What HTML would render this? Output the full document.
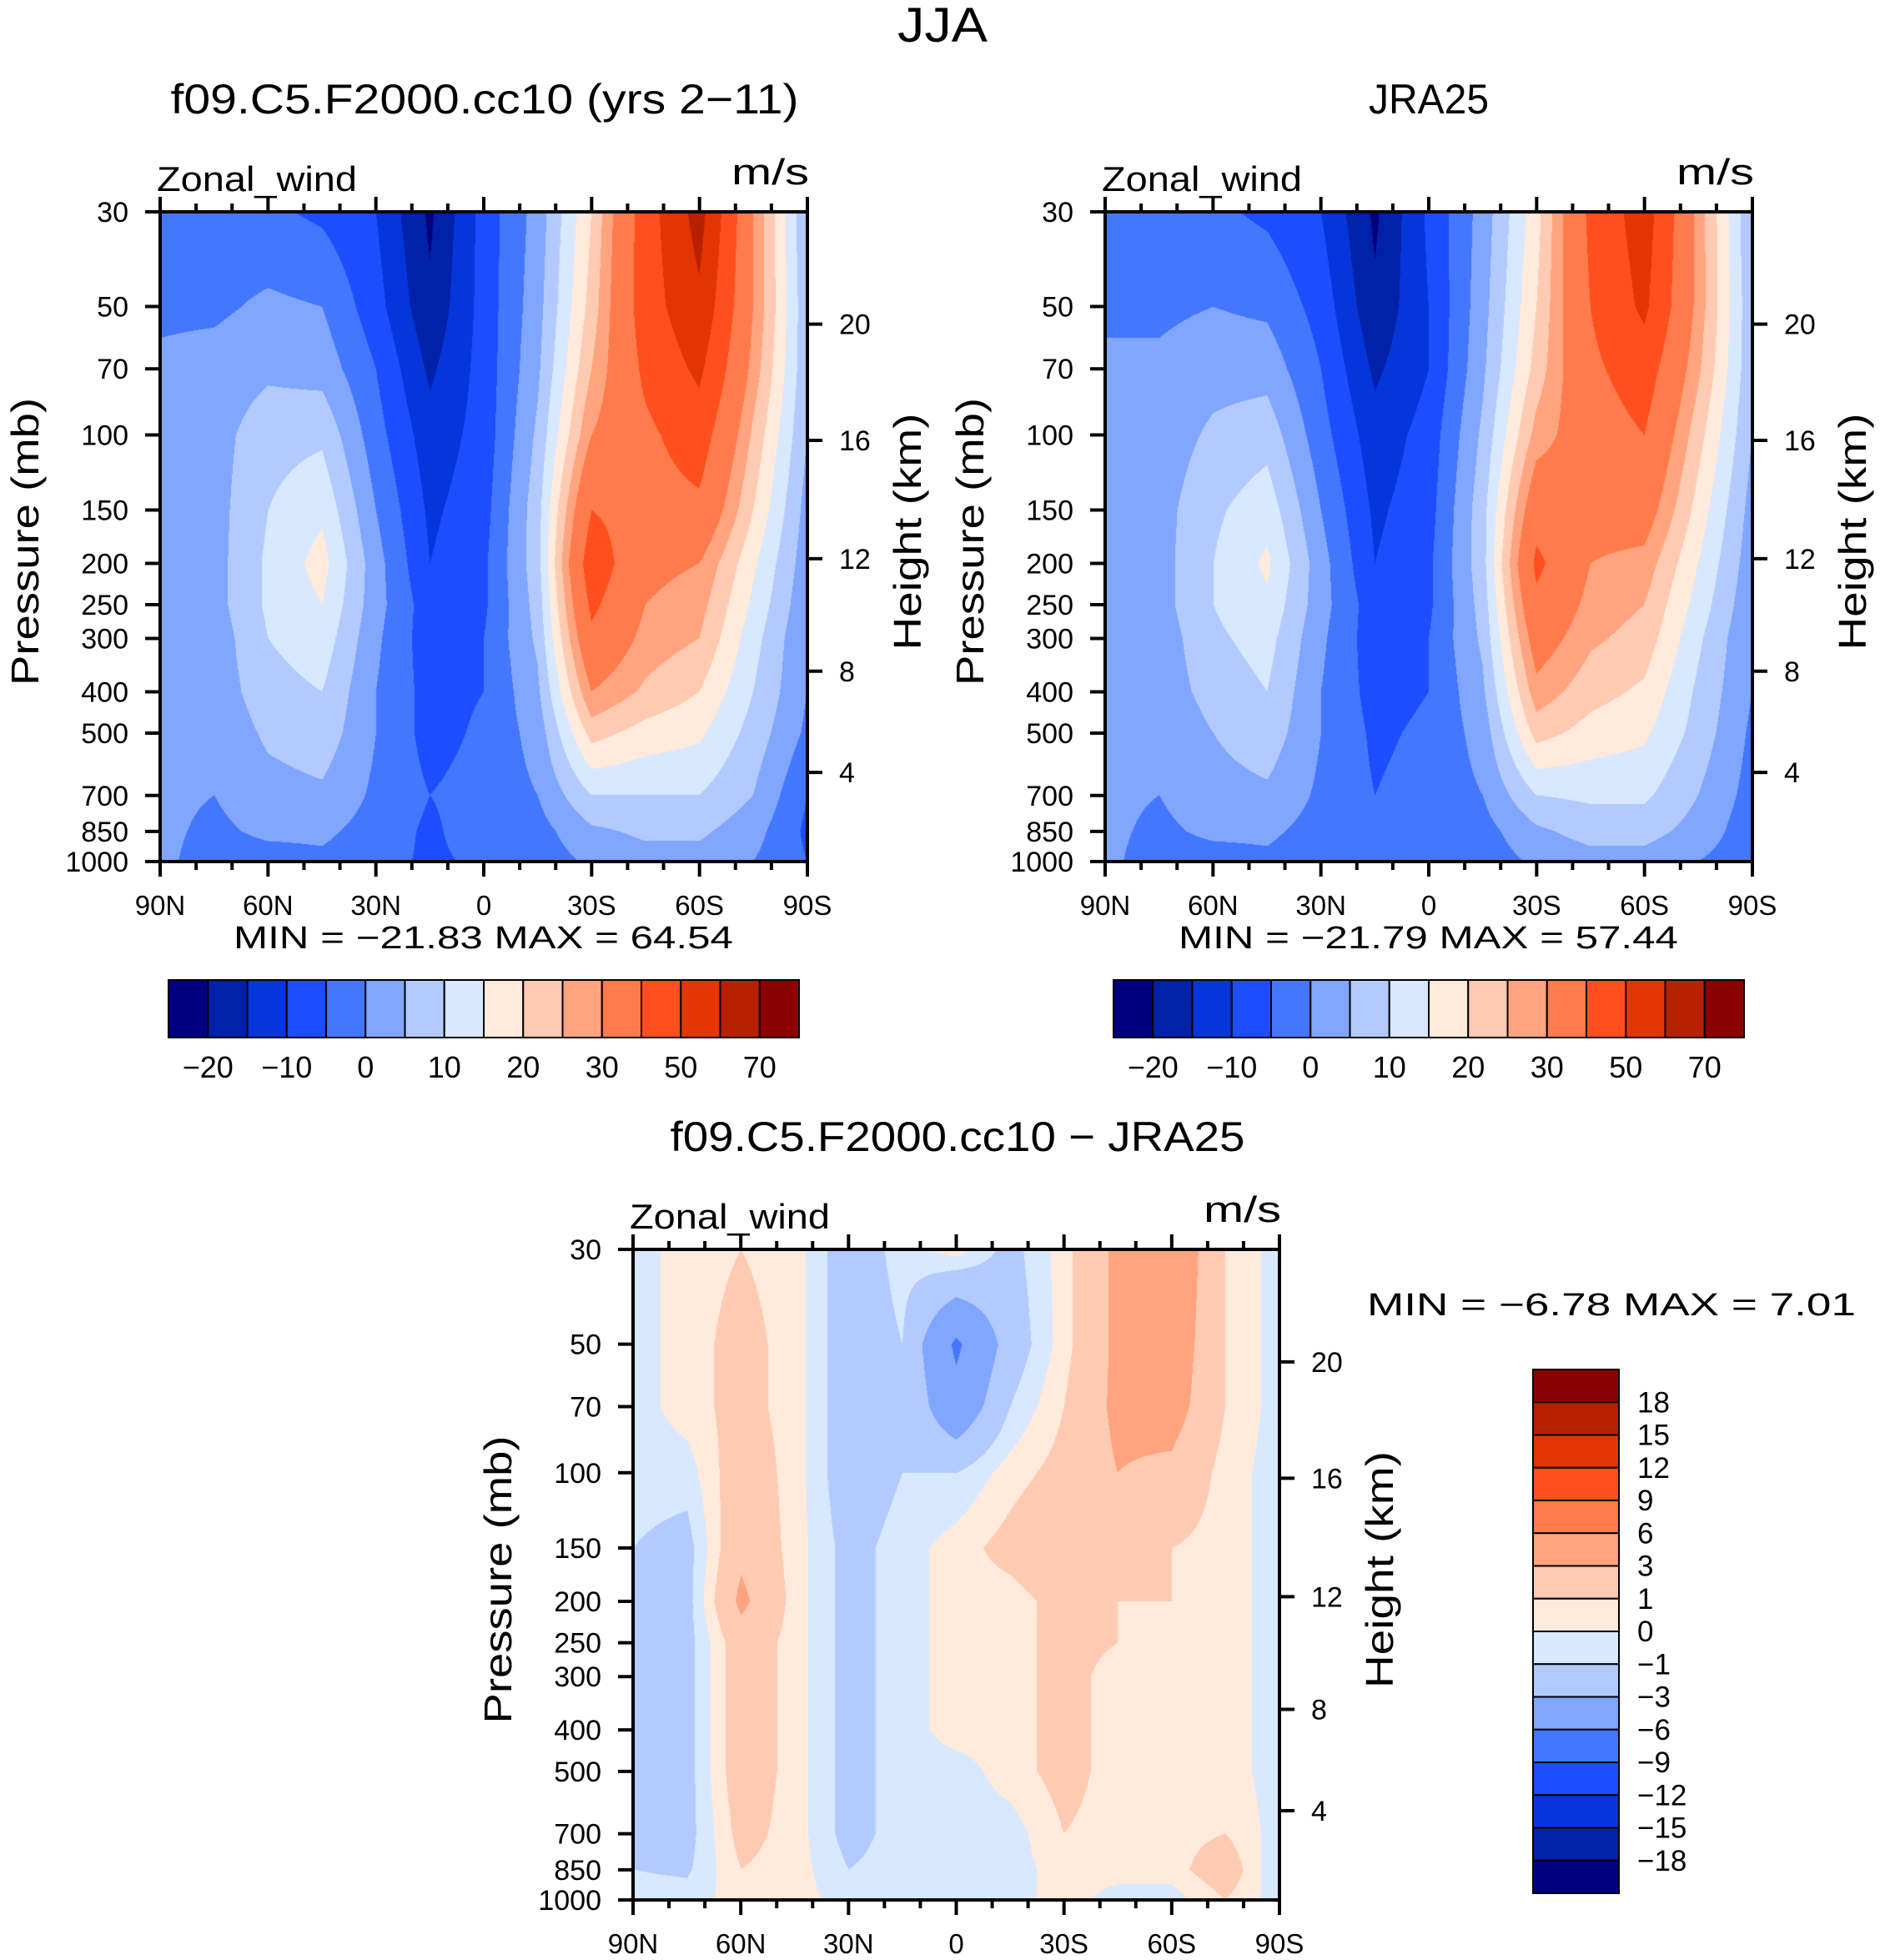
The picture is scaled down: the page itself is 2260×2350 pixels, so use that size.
<!DOCTYPE html>
<html><head><meta charset="utf-8">
<style>
html,body{margin:0;padding:0;background:#fff;}
#root{position:relative;width:2260px;height:2350px;overflow:hidden;font-family:"Liberation Sans",sans-serif;}
canvas{position:absolute;}
svg{position:absolute;left:0;top:0;}
text{font-family:"Liberation Sans",sans-serif;fill:#000;}
</style></head>
<body>
<div id="root">
<canvas id="c1"></canvas>
<canvas id="c2"></canvas>
<canvas id="c3"></canvas>
<svg id="ov" width="2260" height="2350"></svg>
</div>
<script>
// ---- data ----
const latLabels = ["90N","60N","30N","0","30S","60S","90S"];
const latsGrid = [90,75,60,45,30,15,0,-15,-30,-45,-60,-75,-90];
const pressures = [30,50,70,100,150,200,250,300,400,500,700,850,1000];
const pressureTicks = [30,50,70,100,150,200,250,300,400,500,700,850,1000];
const heightLabels = [20,16,12,8,4];
const heightTickPressures = [55,103,195,358,618];
const mainLevels = [-20,-15,-10,-5,0,5,10,15,20,25,30,40,50,60,70];
const mainLevelLabels = ["-20","-10","0","10","20","30","50","70"];
const diffLevels = [-18,-15,-12,-9,-6,-3,-1,0,1,3,6,9,12,15,18];
const palette = ["#00007f","#0021a8","#0536dc","#1c4eff","#4477ff","#80a6ff","#b2caff","#d7e8ff","#ffeadb","#ffcab2","#ffa47e","#ff7b4c","#ff4f1e","#e23500","#b82100","#8b0000"];
const modelU = [
[-3,-3,-4,-6,-10,-21,-8,2,20,45,64,30,5],
[-1,-1,1,0,-8,-19,-8,3,22,45,58,30,6],
[1,2,4,3,-5,-16,-8,4,25,42,52,28,6],
[2,3,8,9,-3,-13,-8,6,30,38,45,24,5],
[2,3,10,14,0,-11,-7,8,40,36,38,20,3],
[2,3,11,17,2,-10,-6,8,46,32,30,16,2],
[2,3,11,15,2,-8,-6,7,42,30,27,14,1],
[2,2,10,13,1,-8,-5,6,38,28,25,12,0],
[2,2,8,10,0,-7,-5,4,30,24,20,10,0],
[2,1,6,8,0,-7,-4,2,22,18,16,8,-1],
[1,0,3,4,-1,-5,-3,0,10,10,10,5,-5],
[1,-1,1,1,-2,-6,-2,-2,4,6,6,2,-6],
[1,-2,-2,-1,-3,-6,-4,-3,1,3,3,0,-5]];
const obsU = [
[-3,-3,-4,-6,-10,-21,-9,2,18,42,55,28,5],
[-1,-1,0,-1,-7,-19,-10,3,20,40,52,28,6],
[1,1,3,3,-5,-16,-10,4,22,38,45,26,6],
[2,2,6,8,-3,-13,-8,6,27,35,40,22,5],
[2,3,9,13,0,-11,-7,8,36,33,34,18,3],
[2,3,10,16,2,-10,-6,8,42,30,28,15,2],
[2,3,10,14,2,-8,-6,7,38,28,25,13,1],
[2,2,9,12,1,-8,-5,6,34,26,23,11,0],
[2,2,7,10,0,-7,-5,4,28,22,19,9,0],
[2,1,5,8,0,-6,-4,2,22,18,16,8,-1],
[1,0,3,4,-1,-5,-3,0,10,11,11,5,-2],
[1,-1,1,1,-2,-5,-2,-2,4,7,7,3,-3],
[1,-2,-2,-1,-3,-5,-4,-3,1,3,3,0,-3]];
const diffU = [
[-0.5,0.5,1,0.5,-2,-0.5,0.5,-1.5,0.5,3.5,5,1,-0.5],
[-0.5,0.5,1.5,0.5,-2,-1,-6.5,-2,0.5,3.5,4.5,1,-0.5],
[-0.5,0.5,1.5,0.5,-2,-1,-5,-1,1,3.5,4,1,-0.5],
[-0.5,-0.5,2,0.5,-2,-1,-1,0.5,1.5,3,2.5,0.5,-0.5],
[-1,-1.5,2.5,0.5,-1.5,-0.5,0.5,1.5,2.5,1.5,1,0.5,-0.5],
[-1,-1.5,3.5,0.5,-1.5,-0.5,0.5,0.5,1.5,1,1,0.5,-0.5],
[-1,-1.5,2,0.5,-1.5,-0.5,0.5,0.5,1.5,1,0.5,0.5,-0.5],
[-1,-1.5,2,0.5,-1.5,-0.5,0.5,0.5,1.5,0.5,0.5,0.5,-0.5],
[-1,-1.5,2,0.5,-1.5,-0.5,0.5,0.5,1.5,0.5,0.5,0.5,-0.5],
[-1,-1.5,2,0.5,-1.5,-0.5,-0.5,0.5,1.5,0.5,0.5,0.5,-0.5],
[-1,-1.5,1.5,0.5,-1.5,-0.5,-0.5,-0.5,1,0.5,0.5,1,-0.5],
[-1,-1.2,1,0.5,-1,-0.5,-1,-0.5,0.5,0.5,0.5,2,-1],
[-0.5,-0.5,0.5,0.5,-0.5,-0.5,-1,-0.5,0.5,-0.5,-0.5,1,-0.5]];

// ---- helpers ----
const NS="http://www.w3.org/2000/svg";
const ov=document.getElementById('ov');
function el(tag,attrs,txt){const e=document.createElementNS(NS,tag);for(const k in attrs)e.setAttribute(k,attrs[k]);if(txt!==undefined)e.textContent=txt;ov.appendChild(e);return e;}
const lp0=Math.log(30),lp1=Math.log(1000);
function yOf(p,y0,h){return y0+(Math.log(p)-lp0)/(lp1-lp0)*h;}
function xOf(lat,x0,w){return x0+(90-lat)/180*w;}
function colorIdx(v,levels){let i=0;while(i<levels.length&&v>=levels[i])i++;return i;}
function hex(c){return [parseInt(c.substr(1,2),16),parseInt(c.substr(3,2),16),parseInt(c.substr(5,2),16)];}
const rgb=palette.map(hex);
const lpArr=pressures.map(p=>Math.log(p));

function fill(id,x0,y0,w,h,grid,levels){
  const cv=document.getElementById(id);
  cv.width=w;cv.height=h;cv.style.left=x0+'px';cv.style.top=y0+'px';
  const ctx=cv.getContext('2d');const img=ctx.createImageData(w,h);
  const nx=latsGrid.length-1;
  for(let py=0;py<h;py++){
    const lp=lp0+py/(h-1)*(lp1-lp0);
    let r=0;while(r<lpArr.length-2&&lp>lpArr[r+1])r++;
    const ty=Math.min(1,Math.max(0,(lp-lpArr[r])/(lpArr[r+1]-lpArr[r])));
    for(let px=0;px<w;px++){
      const fx=px/(w-1)*nx;let c=Math.min(nx-1,Math.floor(fx));const tx=fx-c;
      const v=(grid[r][c]*(1-tx)+grid[r][c+1]*tx)*(1-ty)+(grid[r+1][c]*(1-tx)+grid[r+1][c+1]*tx)*ty;
      const col=rgb[colorIdx(v,levels)];const k=(py*w+px)*4;
      img.data[k]=col[0];img.data[k+1]=col[1];img.data[k+2]=col[2];img.data[k+3]=255;
    }
  }
  ctx.putImageData(img,0,0);
}
function T(attrs,txt,len){const a=Object.assign({},attrs);if(len){a.textLength=len;a.lengthAdjust='spacingAndGlyphs';}return el('text',a,txt);}

function axes(x0,y0,w,h,title,titleX,titleLen,name){
  T({x:titleX,y:y0-118,'font-size':50,'text-anchor':'middle',},title,titleLen);
  T({x:x0-4,y:y0-25,'font-size':42,},'Zonal_wind',240);
  T({x:x0+w+2-93,y:y0-33,'font-size':44,},'m/s',93);
  el('rect',{x:x0,y:y0,width:w,height:h,fill:'none',stroke:'#000','stroke-width':4,});
  for(let lat=90;lat>=-90;lat-=10){
    const x=xOf(lat,x0,w);const major=lat%30===0;const L=major?18:10;
    el('line',{x1:x,y1:y0,x2:x,y2:y0-L,stroke:'#000','stroke-width':4});
    el('line',{x1:x,y1:y0+h,x2:x,y2:y0+h+L,stroke:'#000','stroke-width':4});
  }
  latLabels.forEach((t,i)=>{const lat=90-i*30;
    el('text',{x:xOf(lat,x0,w),y:y0+h+64,'font-size':33,'text-anchor':'middle',},t);});
  pressureTicks.forEach(p=>{const y=yOf(p,y0,h);
    el('line',{x1:x0,y1:y,x2:x0-18,y2:y,stroke:'#000','stroke-width':4});
    el('text',{x:x0-38,y:y+12,'font-size':34,'text-anchor':'end',},String(p));});
  heightLabels.forEach((k,i)=>{const y=yOf(heightTickPressures[i],y0,h);
    el('line',{x1:x0+w,y1:y,x2:x0+w+18,y2:y,stroke:'#000','stroke-width':4});
    el('text',{x:x0+w+38,y:y+12,'font-size':34,},String(k));});
  const cy=y0+h/2;
  T({x:0,y:0,'font-size':46,'text-anchor':'middle',transform:`translate(${x0-146},${cy+6}) rotate(-90)`,},'Pressure (mb)',345);
  T({x:0,y:0,'font-size':46,'text-anchor':'middle',transform:`translate(${x0+w+136},${cy-6}) rotate(-90)`,},'Height (km)',284);
}

function hbar(x0,y0,w,h,name){
  const bw=w/16;
  for(let i=0;i<16;i++) el('rect',{x:x0+i*bw,y:y0,width:bw,height:h,fill:palette[i],stroke:'#000','stroke-width':2,});
  mainLevelLabels.forEach((t,i)=>{el('text',{x:x0+(2*i+1)*bw,y:y0+h+48,'font-size':36,'text-anchor':'middle',},t.replace('-','\u2212'));});
}

T({x:1130,y:50,'font-size':58,'text-anchor':'middle',},'JJA',108);

const P1={x:192,y:254,w:776,h:779}, P2={x:1325,y:254,w:776,h:779}, P3={x:759,y:1498,w:775,h:780};
fill('c1',P1.x,P1.y,P1.w,P1.h,modelU,mainLevels);
fill('c2',P2.x,P2.y,P2.w,P2.h,obsU,mainLevels);
fill('c3',P3.x,P3.y,P3.w,P3.h,diffU,diffLevels);
axes(P1.x,P1.y,P1.w,P1.h,'f09.C5.F2000.cc10 (yrs 2\u221211)',581,753,'model');
axes(P2.x,P2.y,P2.w,P2.h,'JRA25',1713,144,'obs');
axes(P3.x,P3.y,P3.w,P3.h,'f09.C5.F2000.cc10 \u2212 JRA25',1148,689,'diff');

T({x:280,y:1137,'font-size':38,'xml:space':'preserve'},'MIN =  \u221221.83   MAX =   64.54',599);
T({x:1413,y:1137,'font-size':38,'xml:space':'preserve'},'MIN =  \u221221.79   MAX =   57.44',599);
T({x:1639,y:1577,'font-size':38,'xml:space':'preserve'},'MIN =    \u22126.78   MAX =     7.01',586);
hbar(202,1175,756,69,'model-colorbar');
hbar(1335,1175,756,69,'obs-colorbar');

// vertical diff colorbar
(function(){
  const x0=1838,y0=1642,w=103,h=628,bh=h/16;
  for(let i=0;i<16;i++) el('rect',{x:x0,y:y0+i*bh,width:w,height:bh,fill:palette[15-i],stroke:'#000','stroke-width':2,});
  for(let i=0;i<diffLevels.length;i++){
    const v=diffLevels[diffLevels.length-1-i];
    el('text',{x:x0+w+22,y:y0+(i+1)*bh+12,'font-size':35,},String(v).replace('-','\u2212'));
  }
})();
</script>
</body></html>
